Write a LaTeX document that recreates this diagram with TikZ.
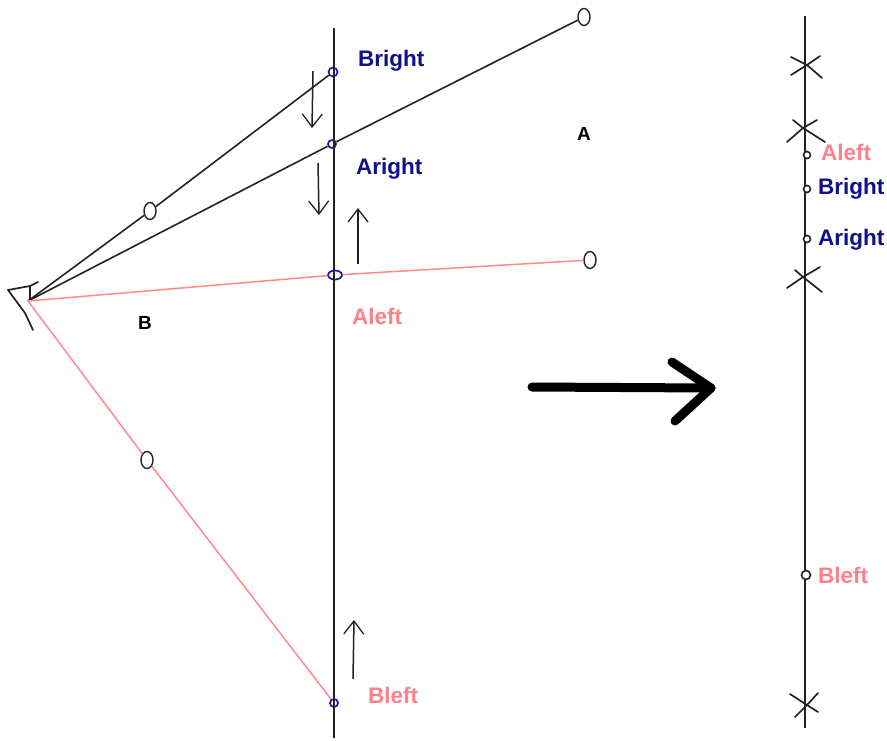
\documentclass[tikz,border=0pt]{standalone}
\usepackage{fontspec}
\setsansfont{Liberation Sans}
\usepackage{tikz}
\usetikzlibrary{arrows.meta,positioning,shapes.geometric}
\definecolor{labelnavy}{HTML}{10108A}
\definecolor{labelpink}{HTML}{FF8088}
\definecolor{raypink}{HTML}{FF8A8A}
\definecolor{pointblue}{HTML}{1A1AA0}
\definecolor{inkgrey}{HTML}{222222}

\tikzset{
  rightlabel/.style={font=\sffamily\bfseries\fontsize{22.5}{24}\selectfont, text=labelnavy, inner sep=0pt},
  leftlabel/.style={font=\sffamily\bfseries\fontsize{22.5}{24}\selectfont, text=labelpink, inner sep=0pt},
  sidelabel/.style={font=\sffamily\bfseries\fontsize{19}{21}\selectfont, text=black, inner sep=0pt},
  crossing/.style={draw=pointblue, line width=1.7pt, circle, minimum size=8pt, inner sep=0pt},
  endpoint/.style={draw=inkgrey, line width=1.4pt, ellipse, minimum width=12pt, minimum height=17pt, inner sep=0pt},
  projected/.style={draw=inkgrey, fill=white, line width=1.6pt, circle, minimum size=7pt, inner sep=0pt},
  blackray/.style={draw=inkgrey, line width=1.6pt},
  pinkray/.style={draw=raypink, line width=1.5pt},
  imageline/.style={draw=inkgrey, line width=2.2pt},
  motion/.style={draw=inkgrey, line width=1.5pt},
  sketchtick/.style={draw=inkgrey, line width=1.7pt, line cap=round, line join=round}
}

\begin{document}
\begin{tikzpicture}[x=1pt, y=-1pt]
  \useasboundingbox (0, 0) rectangle (887, 740);

  % Eye
  \coordinate (eye) at (28, 301);
  \draw[sketchtick] (38, 282) -- (30, 286) -- (8, 290) -- (25, 313) -- (33, 330);
  \draw[sketchtick] (30, 286) -- (30, 300);

  % Points on the image line
  \coordinate (topL) at (334, 28);
  \coordinate (botL) at (334, 738);
  \node[crossing, minimum size=9pt] (brightL) at (333, 72) {};
  \node[crossing] (arightL) at (332, 144) {};
  \node[crossing, ellipse, minimum width=14pt, minimum height=9pt] (aleftL) at (335, 275) {};
  \node[crossing] (bleftL) at (334, 703) {};

  % World points
  \node[endpoint] (pointB) at (150, 211) {};
  \node[endpoint] (pointA) at (584, 17) {};
  \node[endpoint] (pointC) at (590, 260) {};
  \node[endpoint] (pointD) at (147, 460) {};

  % Rays
  \draw[blackray] (eye) -- (pointB) -- (brightL);
  \draw[blackray] (eye) -- (arightL) -- (pointA);
  \draw[pinkray] (eye) -- (aleftL) -- (pointC);
  \draw[pinkray] (eye) -- (pointD) -- (bleftL);

  % Left image line
  \draw[imageline] (topL) -- (botL);

  % Motion arrows
  \foreach \name/\xa/\ya/\xb/\yb in {m1/313/71/312/128, m2/318/163/319/215, m3/358/264/358/208, m4/353/679/354/620} {
    \coordinate (\name a) at (\xa, \ya);
    \coordinate (\name b) at (\xb, \yb);
    \draw[motion, -{Straight Barb[length=13pt, width=20pt, line width=1.3pt]}] (\name a) -- (\name b);
  }

  % Left labels
  \node[rightlabel, anchor=west] (brightT) at (358, 61) {Bright};
  \node[rightlabel, anchor=west] (arightT) at (356, 169) {Aright};
  \node[leftlabel, anchor=west] (aleftT) at (352, 316) {Aleft};
  \node[leftlabel, anchor=west] (bleftT) at (368, 695) {Bleft};
  \node[sidelabel] (labelA) at (584, 134) {A};
  \node[sidelabel] (labelB) at (145, 323) {B};

  % Big arrow
  \coordinate (bigA) at (532, 387);
  \coordinate (bigB) at (711, 388);
  \draw[line width=9pt, line cap=round, line join=round] (bigA) -- (bigB);
  \draw[line width=9pt, line cap=round, line join=round] (672, 362) -- (bigB) -- (675, 421);

  % Right image line
  \coordinate (topR) at (805, 16);
  \coordinate (botR) at (805, 728);
  \draw[imageline] (topR) -- (botR);

  % Crosses
  \foreach \xa/\ya/\xb/\yb/\xc/\yc/\xd/\yd/\xe/\ye in {
    791/57/807/65/822/78/791/75/820/56,
    793/120/803/128/825/142/787/142/817/120,
    795/270/803/277/822/292/787/288/820/267,
    790/694/807/705/818/712/795/717/818/693} {
    \draw[sketchtick] (\xa, \ya) -- (\xb, \yb) -- (\xc, \yc);
    \draw[sketchtick] (\xd, \yd) -- (\xb, \yb) -- (\xe, \ye);
  }

  % Right points and labels
  \node[projected] (aleftR) at (807, 155) {};
  \node[projected] (brightR) at (807, 189) {};
  \node[projected] (arightR) at (807, 239) {};
  \node[projected, minimum size=9pt] (bleftR) at (806, 575) {};
  \node[leftlabel, anchor=west] (aleftS) at (821, 152) {Aleft};
  \node[rightlabel, anchor=west] (brightS) at (818, 189) {Bright};
  \node[rightlabel, anchor=west] (arightS) at (818, 240) {Aright};
  \node[leftlabel, anchor=west] (bleftS) at (818, 575) {Bleft};

\end{tikzpicture}
\end{document}
